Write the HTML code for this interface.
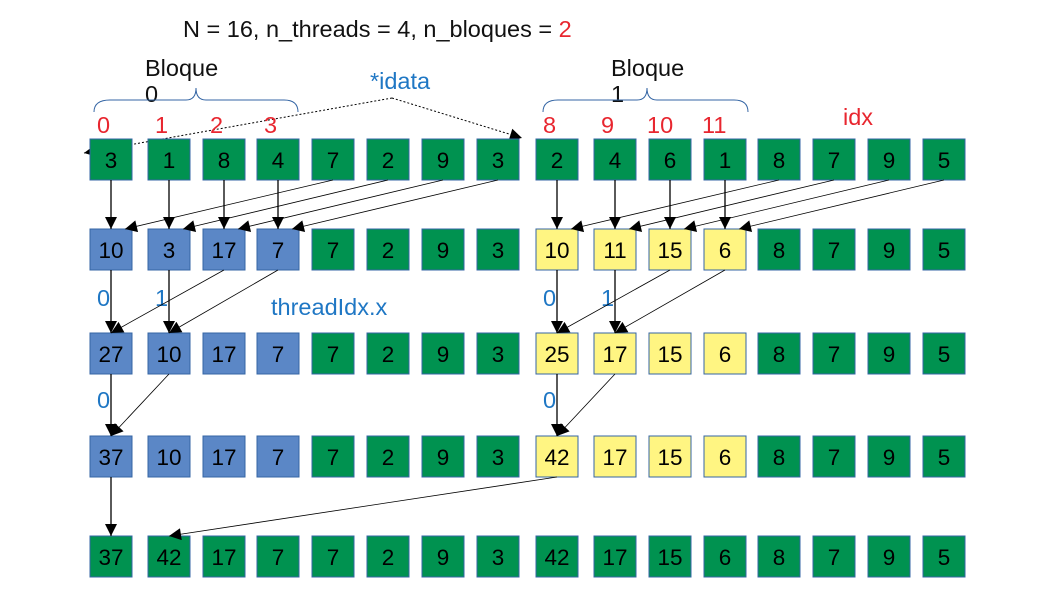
<!DOCTYPE html>
<html><head><meta charset="utf-8"><style>body{margin:0;background:#fff}svg{display:block;font-family:"Liberation Sans",sans-serif}</style></head>
<body>
<svg id="d" width="1058" height="595" viewBox="0 0 1058 595">
<defs><marker id="ah" viewBox="0 0 10 10" refX="10" refY="5" markerUnits="userSpaceOnUse" markerWidth="13" markerHeight="12" orient="auto"><path d="M0,0L10,5L0,10z" fill="#000"/></marker></defs>
<text x="183" y="37" font-size="23.5" fill="#111">N = 16, n_threads = 4, n_bloques = <tspan fill="#e8262f">2</tspan></text>
<text x="145" y="76" font-size="23.5" fill="#111">Bloque</text>
<text x="145" y="102" font-size="23.5" fill="#111">0</text>
<text x="611" y="76" font-size="23.5" fill="#111">Bloque</text>
<text x="611" y="102" font-size="23.5" fill="#111">1</text>
<path d="M94,112 Q94,100 110,100 L186,100 Q196,100 196,88 Q196,100 206,100 L284,100 Q298,100 298,112" fill="none" stroke="#3465a4" stroke-width="1"/>
<path d="M543,112 Q543,100 558,100 L637,100 Q647,100 647,88 Q647,100 657,100 L734,100 Q748,100 748,112" fill="none" stroke="#3465a4" stroke-width="1"/>
<text x="370" y="89" font-size="23.5" fill="#1f77c4">*idata</text>
<line x1="392" y1="98" x2="84" y2="153" stroke="#000" stroke-dasharray="2,2" marker-end="url(#ah)"/>
<line x1="392" y1="98" x2="522" y2="138" stroke="#000" stroke-dasharray="2,2" marker-end="url(#ah)"/>
<text x="843" y="125" font-size="23.5" fill="#e8262f">idx</text>
<text x="271" y="315" font-size="23.5" fill="#1f77c4">threadIdx.x</text>
<g id="g"></g>
</svg>
<script>
const colX=[90,148,203,257,312,367,422,477,536,594,649,704,758,813,868,923];
const rowY=[139,229,333,436,536];
const values=[
[3,1,8,4,7,2,9,3,2,4,6,1,8,7,9,5],
[10,3,17,7,7,2,9,3,10,11,15,6,8,7,9,5],
[27,10,17,7,7,2,9,3,25,17,15,6,8,7,9,5],
[37,10,17,7,7,2,9,3,42,17,15,6,8,7,9,5],
[37,42,17,7,7,2,9,3,42,17,15,6,8,7,9,5]];
const colors=["gggggggggggggggg","bbbbggggyyyygggg","bbbbggggyyyygggg","bbbbggggyyyygggg","gggggggggggggggg"];
const idxLabels=[0,1,2,3,8,9,10,11];
const idxCols=[0,1,2,3,8,9,10,11];
const fill={g:"#009250",b:"#5b87c6",y:"#fff582"};
const ns="http://www.w3.org/2000/svg",G=document.getElementById('g');
function mk(t,a){const e=document.createElementNS(ns,t);for(const k in a)e.setAttribute(k,a[k]);G.appendChild(e);return e;}
const W=42,H=41;
values.forEach((row,r)=>row.forEach((v,c)=>{
 const re=mk('rect',{x:colX[c],y:rowY[r],width:W,height:H,fill:fill[colors[r][c]],stroke:"#3465a4","stroke-width":1});
 
 
 const t=mk('text',{x:colX[c]+W/2,y:rowY[r]+29,"font-size":22.5,"text-anchor":"middle",fill:"#000"});
 t.textContent=v;
 
 
}));
idxLabels.forEach((l,i)=>{const t=mk('text',{x:colX[idxCols[i]]+(l>9?-2:7),y:133,"font-size":23.5,fill:"#e8262f"});t.textContent=l;
 
 });
[[0,0,306],[1,1,306],[8,0,306],[9,1,306],[0,0,408],[8,0,408]].forEach(([c,l,y])=>{const t=mk('text',{x:colX[c]+7,y:y,"font-size":23.5,fill:"#1f77c4"});t.textContent=l;
 
 });
function arrow(c1,r1,c2,r2,dx,thin){
 const x1=colX[c1]+W/2,y1=rowY[r1]+H,x2=colX[c2]+W/2+dx,y2=rowY[r2];
 const l=mk('line',{x1,y1,x2,y2,stroke:"#000","stroke-width":thin?0.8:1.3,"marker-end":"url(#ah)"});
 
 
}
[0,8].forEach(b=>{
 for(let i=0;i<4;i++){arrow(b+i,0,b+i,1,0);arrow(b+i+4,0,b+i,1,14,1);}
 arrow(b,1,b,2,0);arrow(b+1,1,b+1,2,0);arrow(b+2,1,b,2,0,1);arrow(b+3,1,b+1,2,0,1);
 arrow(b,2,b,3,0);arrow(b+1,2,b,3,0,1);
});
arrow(0,3,0,4,0);arrow(8,3,1,4,0,1);
</script>
</body></html>
